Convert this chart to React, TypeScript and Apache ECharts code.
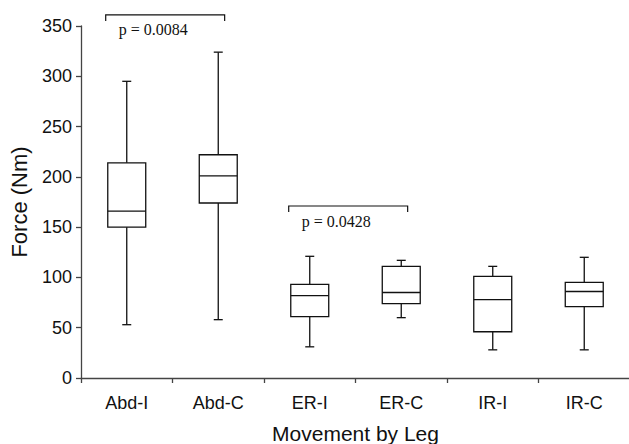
import React, { useEffect, useRef } from "react";
import * as echarts from "echarts";

const categories = ["Abd-I", "Abd-C", "ER-I", "ER-C", "IR-I", "IR-C"];
// [low whisker, Q1, median, Q3, high whisker]
const lows = [53, 58, 31, 60, 28, 28];
const q1s = [150, 174, 61, 74, 46, 71];
const medians = [166, 201, 82, 85, 78, 86];
const q3s = [214, 222, 93, 111, 101, 95];
const highs = [295, 324, 121, 117, 111, 120];

const yTicks = { min: 0, max: 350, interval: 50 };

const bracketFrom = [0, 2];
const bracketTo = [1, 3];
const bracketY = [361, 171];
const bracketLabels = ["p = 0.0084", "p = 0.0428"];

const SANS = "Liberation Sans, Arial, Helvetica, sans-serif";

export default function App() {
  const ref = useRef<HTMLDivElement>(null);
  useEffect(() => {
    if (!ref.current) return;
    const chart = echarts.init(ref.current, null, { renderer: "svg" });
    const boxData = categories.map((_, i) => [i, lows[i], q1s[i], medians[i], q3s[i], highs[i]]);
    const bracketData = bracketFrom.map((f, i) => [f, bracketTo[i], bracketY[i], i]);
    const lineStyle = { stroke: "#111", lineWidth: 1.3, fill: "none" };
    chart.setOption({
      animation: false,
      grid: { left: 81, right: -1, top: 26, bottom: 66, containLabel: false, outerBoundsMode: "none" },
      xAxis: {
        type: "category",
        data: categories,
        name: "Movement by Leg",
        nameLocation: "middle",
        nameGap: 45,
        nameTextStyle: { fontFamily: SANS, fontSize: 21, color: "#111" },
        axisLine: { lineStyle: { color: "#444", width: 1.3 } },
        axisTick: { show: true, length: 5, lineStyle: { color: "#444", width: 1.3 } },
        axisLabel: { fontFamily: SANS, fontSize: 18, color: "#111", margin: 16 },
        splitLine: { show: false },
      },
      yAxis: {
        type: "value",
        min: yTicks.min,
        max: yTicks.max,
        interval: yTicks.interval,
        name: "Force (Nm)",
        nameLocation: "middle",
        nameGap: 51,
        nameTextStyle: { fontFamily: SANS, fontSize: 22, color: "#111" },
        axisLine: { show: true, lineStyle: { color: "#444", width: 1.3 } },
        axisTick: { show: true, length: 5, lineStyle: { color: "#444", width: 1.3 } },
        axisLabel: { fontFamily: SANS, fontSize: 18, color: "#111", margin: 9 },
        splitLine: { show: false },
      },
      series: [
        {
          type: "custom",
          data: boxData,
          clip: false,
          renderItem: (params: any, api: any) => {
            const x = api.value(0);
            const pLow = api.coord([x, api.value(1)]);
            const pQ1 = api.coord([x, api.value(2)]);
            const pMed = api.coord([x, api.value(3)]);
            const pQ3 = api.coord([x, api.value(4)]);
            const pHigh = api.coord([x, api.value(5)]);
            const band = api.size([1, 0])[0];
            const bw = band * 0.415;
            const cw = 9;
            const cx = pMed[0];
            return {
              type: "group",
              children: [
                { type: "line", shape: { x1: cx, y1: pQ1[1], x2: cx, y2: pLow[1] }, style: lineStyle },
                { type: "line", shape: { x1: cx - cw / 2, y1: pLow[1], x2: cx + cw / 2, y2: pLow[1] }, style: lineStyle },
                { type: "line", shape: { x1: cx, y1: pQ3[1], x2: cx, y2: pHigh[1] }, style: lineStyle },
                { type: "line", shape: { x1: cx - cw / 2, y1: pHigh[1], x2: cx + cw / 2, y2: pHigh[1] }, style: lineStyle },
                { type: "rect", shape: { x: cx - bw / 2, y: pQ3[1], width: bw, height: pQ1[1] - pQ3[1] }, style: lineStyle },
                { type: "line", shape: { x1: cx - bw / 2, y1: pMed[1], x2: cx + bw / 2, y2: pMed[1] }, style: lineStyle },
              ],
            };
          },
        },
        {
          type: "custom",
          data: bracketData,
          clip: false,
          renderItem: (params: any, api: any) => {
            const band = api.size([1, 0])[0];
            const a = api.coord([api.value(0), api.value(2)]);
            const b = api.coord([api.value(1), api.value(2)]);
            const idx = api.value(3);
            const x1 = a[0] - band * 0.23;
            const x2 = b[0] + band * 0.07;
            const y = a[1];
            return {
              type: "group",
              children: [
                { type: "polyline", shape: { points: [[x1, y + 6], [x1, y], [x2, y], [x2, y + 6]] }, style: { stroke: "#111", lineWidth: 1.2, fill: "none" } },
                {
                  type: "text",
                  style: {
                    text: bracketLabels[idx],
                    x: x1 + 13,
                    y: y + 15,
                    verticalAlign: "middle",
                    align: "left",
                    font: "16px 'Liberation Serif', 'Times New Roman', serif",
                    fill: "#111",
                  },
                },
              ],
            };
          },
        },
      ],
    });
    return () => chart.dispose();
  }, []);
  return <div ref={ref} style={{ position: "fixed", left: 0, top: 0, width: 629, height: 444, background: "#fff" }} />;
}
